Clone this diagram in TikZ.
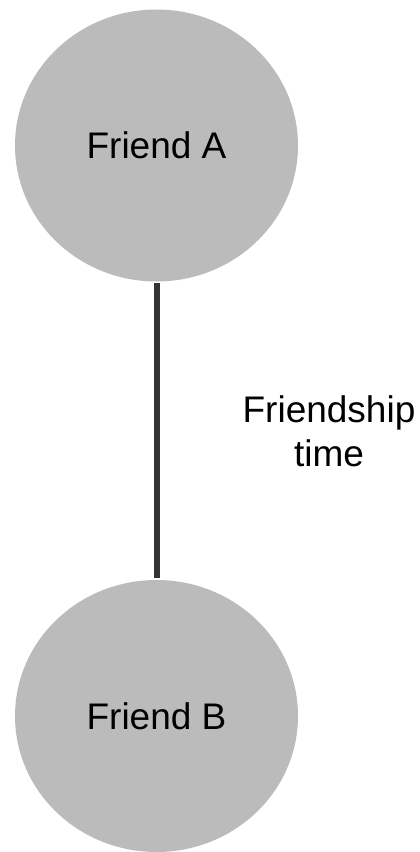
\documentclass[tikz,border=0pt]{standalone}
\usepackage{fontspec}
\setmainfont{Liberation Sans}
\usetikzlibrary{shapes.geometric}
\definecolor{friendfill}{HTML}{BBBBBB}
\definecolor{linkcol}{HTML}{333333}
\tikzset{
  friend/.style={ellipse, fill=friendfill, draw=none, minimum width=283pt, minimum height=272pt, inner sep=0pt, font=\fontsize{37}{40}\selectfont},
  link/.style={draw=linkcol, line width=6pt, shorten <=1.5pt, shorten >=1.5pt},
  linklabel/.style={align=center, font=\fontsize{37}{44}\selectfont, inner sep=0pt}
}
\begin{document}
\begin{tikzpicture}[x=1pt,y=-1pt]
\useasboundingbox (0,0) rectangle (420,852);
\node[friend] (a) at (156.5,145.5) {Friend A};
\node[friend] (b) at (156.5,716) {Friend B};
\draw[link] (a.south) -- (b.north);
\node[linklabel] (lbl) at (329,431) {Friendship\\time};
\end{tikzpicture}
\end{document}
